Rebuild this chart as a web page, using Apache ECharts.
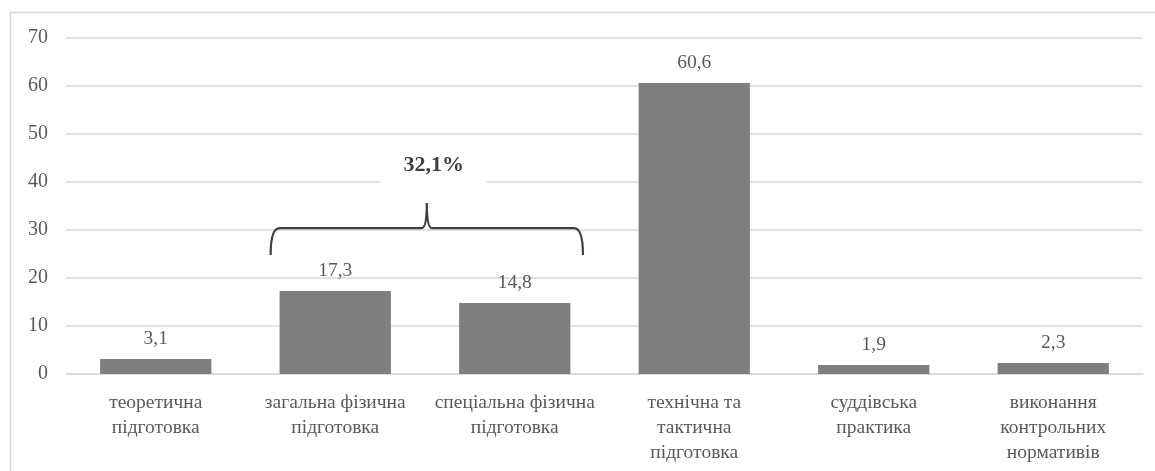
<!DOCTYPE html>
<html>
<head>
<meta charset="utf-8">
<script src="https://cdn.jsdelivr.net/npm/echarts@6/dist/echarts.min.js"></script>
<style>
html,body{margin:0;padding:0;background:#fff;}
#chart{width:1155px;height:471px;}
</style>
</head>
<body>
<div id="chart"></div>
<script>
const categories = [
  "теоретична\nпідготовка",
  "загальна фізична\nпідготовка",
  "спеціальна фізична\nпідготовка",
  "технічна та\nтактична\nпідготовка",
  "суддівська\nпрактика",
  "виконання\nконтрольних\nнормативів"
];
const values = [3.1, 17.3, 14.8, 60.6, 1.9, 2.3];
const yTicks = [0, 10, 20, 30, 40, 50, 60, 70];
const groupFirst = 1;
const groupLast = 2;
const groupLabel = "32,1%";

const FONT = '"Liberation Serif", "Times New Roman", serif';
const chart = echarts.init(document.getElementById('chart'));

chart.setOption({
  animation: false,
  backgroundColor: '#fff',
  graphic: [{
    type: 'rect', silent: true, z: -10,
    shape: { x: 10.5, y: 12.5, width: 1160, height: 470 },
    style: { fill: 'none', stroke: '#d9d9d9', lineWidth: 1.5 }
  }],
  grid: { left: 66, right: 12, top: 38, bottom: 97, containLabel: false },
  xAxis: {
    type: 'category',
    data: categories,
    axisTick: { show: false },
    axisLine: { lineStyle: { color: '#d9d9d9', width: 1.5 } },
    axisLabel: {
      interval: 0, margin: 16, color: '#595959',
      fontFamily: FONT, fontSize: 19.5, lineHeight: 25
    }
  },
  yAxis: {
    type: 'value', min: yTicks[0], max: yTicks[yTicks.length - 1], interval: 10,
    axisLine: { show: false }, axisTick: { show: false },
    splitLine: { lineStyle: { color: '#d9d9d9', width: 1.5 } },
    axisLabel: { margin: 18, color: '#595959', fontFamily: FONT, fontSize: 20 }
  },
  series: [{
    type: 'bar',
    data: values,
    barCategoryGap: '38%',
    itemStyle: { color: '#7f7f7f' },
    label: {
      show: true, position: 'top', distance: 10,
      color: '#595959', fontFamily: FONT, fontSize: 19.5,
      formatter: p => String(p.value).replace('.', ',')
    }
  }, {
    type: 'custom',
    data: [[groupFirst, groupLast]],
    z: 5,
    renderItem: function (params, api) {
      const a = api.coord([api.value(0), 0]);
      const b = api.coord([api.value(1), 0]);
      const bw = api.size([1, 0])[0];
      const xL = a[0] - 0.36 * bw;
      const xR = b[0] + 0.38 * bw;
      const xM = (xL + xR) / 2;
      const yB = api.coord([0, 24.8])[1];
      const yH = api.coord([0, 30.4])[1];
      const yP = api.coord([0, 35.6])[1];
      const yT = api.coord([0, 43.4])[1];
      const d = `M${xL} ${yB} Q${xL} ${yH} ${xL + 9} ${yH} L${xM - 5} ${yH} Q${xM} ${yH} ${xM} ${yP} Q${xM} ${yH} ${xM + 5} ${yH} L${xR - 9} ${yH} Q${xR} ${yH} ${xR} ${yB}`;
      return {
        type: 'group',
        children: [{
          type: 'path',
          shape: { pathData: d },
          style: { fill: 'none', stroke: '#404040', lineWidth: 2.2 }
        }, {
          type: 'rect',
          shape: { x: xM - 47, y: yT - 18, width: 107, height: 36 },
          style: { fill: '#fff' }
        }, {
          type: 'text',
          style: {
            x: xM + 7, y: yT, text: groupLabel,
            fill: '#404040', fontFamily: FONT, fontSize: 22, fontWeight: 'bold',
            align: 'center', verticalAlign: 'middle'
          }
        }]
      };
    }
  }]
});
</script>
</body>
</html>
